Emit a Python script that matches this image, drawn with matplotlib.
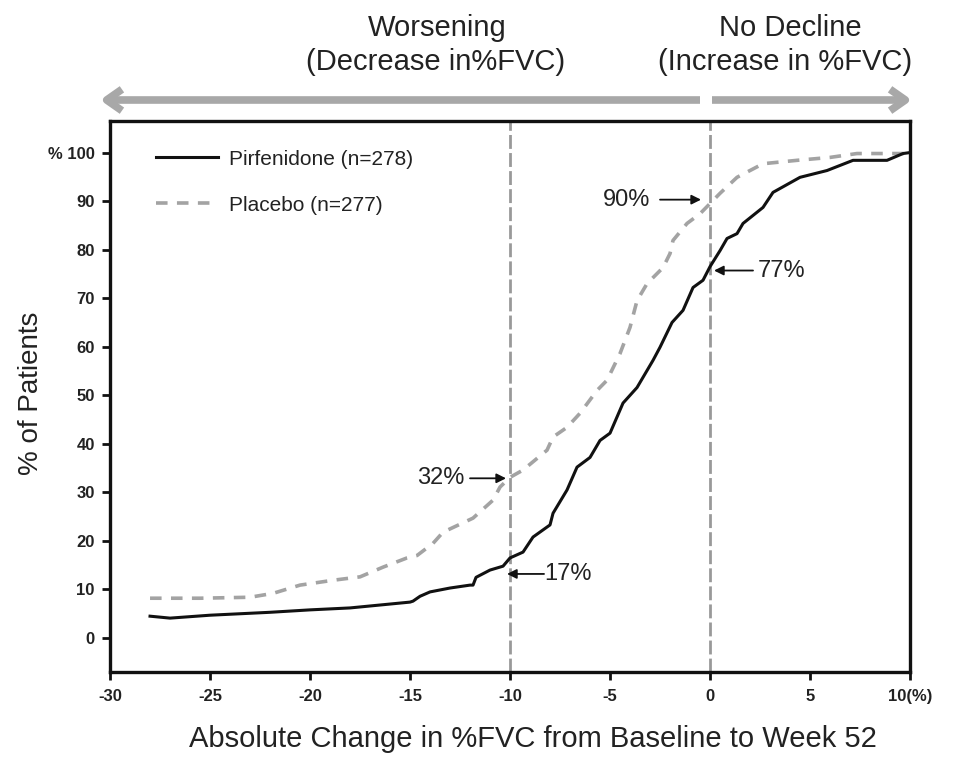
import matplotlib
matplotlib.use("Agg")
import matplotlib.pyplot as plt
from matplotlib.patches import FancyArrowPatch
from matplotlib.lines import Line2D

plt.rcParams['font.family'] = ['Liberation Sans', 'DejaVu Sans']

pirf_x = [-28, -27, -25, -22, -20, -18, -16, -15, -14.85, -14.5, -14, -13, -12, -11.85, -11.7, -11,
          -10.35, -10, -9.35, -8.85, -8, -7.85, -7.15, -6.65, -6, -5.5, -5, -4.35, -3.65, -2.85, -2.5,
          -1.9, -1.35, -0.85, -0.35, 0, 0.5, 0.85, 1.35, 1.65, 2.65, 3.15, 4.5, 5.85, 7.15, 8.85, 9.65, 10]
pirf_y = [4.5, 4.1, 4.7, 5.3, 5.8, 6.2, 7.0, 7.4, 7.6, 8.6, 9.5, 10.3, 10.9, 10.9, 12.5, 14,
          14.8, 16.5, 17.7, 20.8, 23.3, 25.7, 30.5, 35.2, 37.2, 40.7, 42.2, 48.4, 51.6, 57.2, 59.9,
          65, 67.5, 72.2, 73.7, 76.5, 79.8, 82.3, 83.3, 85.4, 88.7, 91.8, 94.9, 96.3, 98.4, 98.4, 99.8, 100]

plac_x = [-28, -25.5, -23, -21.85, -20.5, -18.85, -17.5, -16.35, -15.15, -14.65, -13.85, -13.35, -11.85,
          -10.85, -10.5, -10, -9.35, -8.15, -7.85, -7.15, -6.5, -5.65, -5.15, -4.5, -4, -3.65, -3.15,
          -2.35, -2, -1.85, -1.15, -0.5, 0, 0.5, 1.35, 2.65, 4.35, 6, 7.35, 9.65, 10]
plac_y = [8.2, 8.2, 8.4, 9.2, 10.9, 11.9, 12.6, 14.6, 16.5, 17, 19.5, 21.8, 24.7,
          28.4, 31.1, 33.1, 34.6, 38.7, 41.4, 43.4, 46.3, 51, 53.1, 58.6, 64, 69.5, 73,
          76.3, 79.2, 81.9, 85.4, 87.4, 89.5, 91.6, 94.9, 97.7, 98.4, 99, 99.8, 99.8, 100]

x_ticks = [-30, -25, -20, -15, -10, -5, 0, 5, 10]
x_tick_labels = ['-30', '-25', '-20', '-15', '-10', '-5', '0', '5', '10(%)']
y_ticks = [0, 10, 20, 30, 40, 50, 60, 70, 80, 90, 100]
y_tick_labels = ['0', '10', '20', '30', '40', '50', '60', '70', '80', '90', '% 100']

ref_lines = [-10, 0]
annotations = [
    # label, text xy, arrow start, arrow end
    ('90%', (-4.15, 90.3), (-2.5, 90.3), (-0.45, 90.3)),
    ('77%', (3.6, 75.7), (2.15, 75.7), (0.2, 75.7)),
    ('32%', (-13.45, 32.9), (-12.0, 32.9), (-10.2, 32.9)),
    ('17%', (-7.1, 13.2), (-8.3, 13.2), (-10.15, 13.2)),
]

fig = plt.figure(figsize=(9.56, 7.62), dpi=100)
ax = fig.add_axes([0.1151, 0.1181, 0.8368, 0.7231])

grey = '#a3a3a3'
ax.plot(plac_x, plac_y, color=grey, lw=2.6, linestyle=(0, (3.2, 2.6)), label='Placebo (n=277)')
ax.plot(pirf_x, pirf_y, color='#111111', lw=2.2, label='Pirfenidone (n=278)')

for xv in ref_lines:
    ax.axvline(xv, color='#999999', lw=2, linestyle=(0, (5, 1.5)), zorder=1)

ax.set_xlim(-30, 10)
ax.set_ylim(-7, 106.5)
ax.set_xticks(x_ticks)
ax.set_xticklabels(x_tick_labels, fontsize=12, fontweight='bold', color='#222222')
ax.set_yticks(y_ticks)
ax.set_yticklabels(y_tick_labels, fontsize=12, fontweight='bold', color='#222222')
ax.tick_params(direction='out', length=6, width=2, color='#111111')
ax.tick_params(axis='x', pad=6)
ax.tick_params(axis='y', pad=5)
for s in ax.spines.values():
    s.set_linewidth(2.4)
    s.set_color('#111111')

ax.set_xlabel('Absolute Change in %FVC from Baseline to Week 52', fontsize=21, color='#222222')
ax.xaxis.set_label_coords(0.529, -0.097)
ax.set_ylabel('% of Patients', fontsize=20, color='#222222')
ax.yaxis.set_label_coords(-0.083, 0.505)

handles = [Line2D([], [], color='#111111', lw=2.2),
           Line2D([], [], color=grey, lw=2.6, linestyle=(0, (3.2, 2.6)))]
leg = ax.legend(handles, ['Pirfenidone (n=278)', 'Placebo (n=277)'], loc='upper left',
                bbox_to_anchor=(0.034, 0.982), frameon=False, fontsize=15, handlelength=3.0,
                handletextpad=0.5, labelspacing=1.3)
for t in leg.get_texts():
    t.set_color('#222222')

for label, txy, a0, a1 in annotations:
    ax.text(txy[0], txy[1], label, fontsize=17, ha='center', va='center', color='#222222')
    ax.annotate('', xy=a1, xytext=a0,
                arrowprops=dict(arrowstyle='-|>', color='#111111', lw=1.3, mutation_scale=14,
                                shrinkA=0, shrinkB=0))

# top direction arrows
ya = 1 - 100 / 762
fig.patches.append(FancyArrowPatch((700 / 956, ya), (100 / 956, ya), transform=fig.transFigure,
                                   arrowstyle='->,head_length=0.5,head_width=0.35', mutation_scale=22,
                                   lw=5.5, color='#a8a8a8', shrinkA=0, shrinkB=0, capstyle='butt'))
fig.patches.append(FancyArrowPatch((712 / 956, ya), (912 / 956, ya), transform=fig.transFigure,
                                   arrowstyle='->,head_length=0.5,head_width=0.35', mutation_scale=22,
                                   lw=5.5, color='#a8a8a8', shrinkA=0, shrinkB=0, capstyle='butt'))

top_fs = 21
fig.text(437 / 956, 1 - 28 / 762, 'Worsening', fontsize=top_fs, ha='center', va='center', color='#222222')
fig.text(436 / 956, 1 - 62 / 762, '(Decrease in%FVC)', fontsize=top_fs, ha='center', va='center', color='#222222')
fig.text(790 / 956, 1 - 28 / 762, 'No Decline', fontsize=top_fs, ha='center', va='center', color='#222222')
fig.text(785 / 956, 1 - 62 / 762, '(Increase in %FVC)', fontsize=top_fs, ha='center', va='center', color='#222222')

fig.savefig('out.png', dpi=100)
